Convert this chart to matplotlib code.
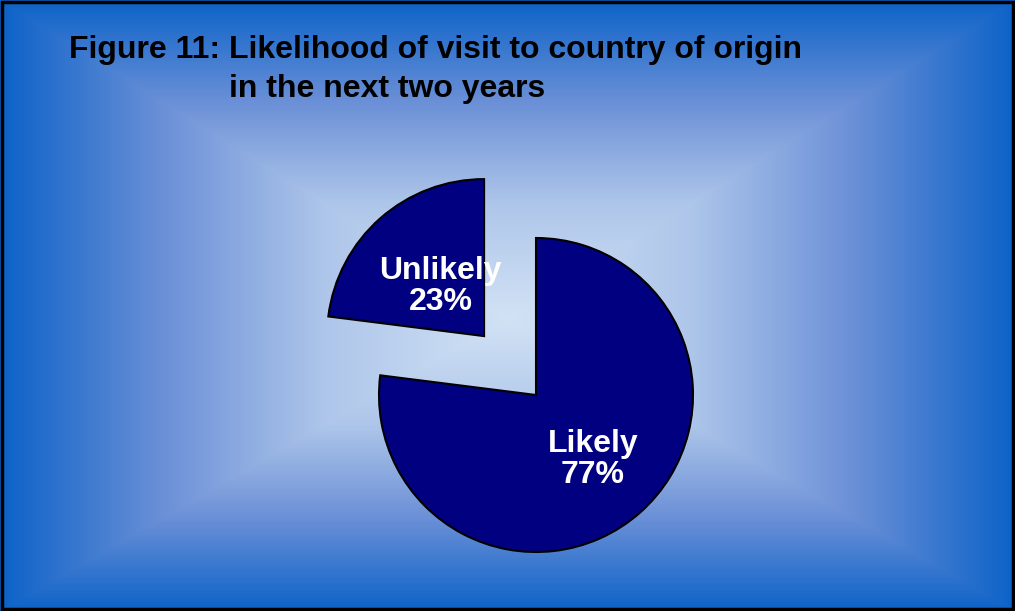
import numpy as np
import matplotlib.pyplot as plt
from matplotlib.colors import LinearSegmentedColormap
from matplotlib.patches import Rectangle

plt.rcParams['font.family'] = ['Liberation Sans', 'DejaVu Sans']

# data
categories = ['Likely', 'Unlikely']
shares = [77, 23]
explode = [0.0, 0.5]
label_dist = [0.55, 0.42]

W, H = 1015, 611
R = 157
fig = plt.figure(figsize=(W / 100, H / 100), dpi=100)
ax = fig.add_axes([0, 0, 1, 1])

# rectangular "from centre" gradient backdrop
yy, xx = np.mgrid[0:H, 0:W]
cx, cy = W / 2, 318
ty = np.where(yy < cy, (cy - yy) / cy, (yy - cy) / (H - cy))
t = np.maximum(np.abs(xx - cx) / (W / 2), ty)
bg_cmap = LinearSegmentedColormap.from_list(
    'bg', [(0.0, '#d2e2f5'), (0.36, '#aec6ea'), (0.68, '#6b90d7'), (1.0, '#0c62c8')])
ax.imshow(t, cmap=bg_cmap, vmin=0, vmax=1, extent=(0, W, 0, H),
          origin='upper', interpolation='bilinear', zorder=0)

# pie drawn in pixel units: explode is a fraction of the radius
wedges, _ = ax.pie(shares, explode=[e * R for e in explode], startangle=90,
                   counterclock=False, colors=['#000080', '#000080'],
                   center=(536, 216), radius=R,
                   wedgeprops=dict(edgecolor='black', linewidth=1.5))

for w, name, val, d in zip(wedges, categories, shares, label_dist):
    ang = np.deg2rad((w.theta1 + w.theta2) / 2)
    x = w.center[0] + d * w.r * np.cos(ang)
    y = w.center[1] + d * w.r * np.sin(ang)
    ax.text(x, y, f'{name}\n{val}%', ha='center', va='center', color='white',
            fontsize=23, fontweight='bold', linespacing=1.05, zorder=5)

ax.set_xlim(0, W)
ax.set_ylim(0, H)
ax.set_axis_off()

fig.text(69 / W, 1 - 58 / H, 'Figure 11: Likelihood of visit to country of origin',
         fontsize=23, fontweight='bold', ha='left', va='baseline')
fig.text(229 / W, 1 - 97 / H, 'in the next two years',
         fontsize=23, fontweight='bold', ha='left', va='baseline')

fig.patches.append(Rectangle((0.002, 0.003), 0.996, 0.994, transform=fig.transFigure,
                             fill=False, edgecolor='black', linewidth=2.5))

fig.savefig('out.png', dpi=100)
